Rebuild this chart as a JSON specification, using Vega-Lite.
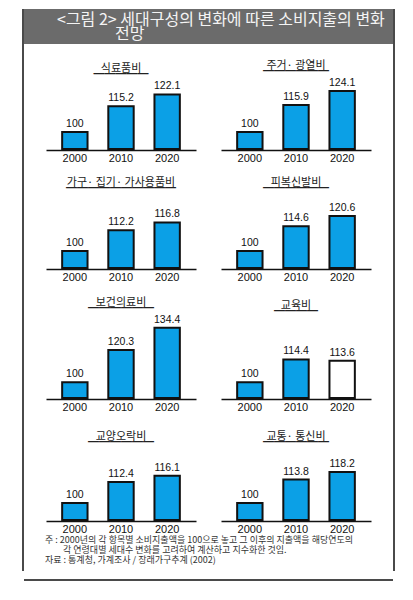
{
  "$schema": "https://vega.github.io/schema/vega-lite/v6.json",
  "padding": {"left": 22, "top": 9, "right": 0, "bottom": 0},
  "background": "white",
  "datasets": {
    "spend": [
      {"category": "식료품비", "year": "2000", "value": 100},
      {"category": "식료품비", "year": "2010", "value": 115.2},
      {"category": "식료품비", "year": "2020", "value": 122.1},
      {"category": "주거· 광열비", "year": "2000", "value": 100},
      {"category": "주거· 광열비", "year": "2010", "value": 115.9},
      {"category": "주거· 광열비", "year": "2020", "value": 124.1},
      {"category": "가구· 집기· 가사용품비", "year": "2000", "value": 100},
      {"category": "가구· 집기· 가사용품비", "year": "2010", "value": 112.2},
      {"category": "가구· 집기· 가사용품비", "year": "2020", "value": 116.8},
      {"category": "피복신발비", "year": "2000", "value": 100},
      {"category": "피복신발비", "year": "2010", "value": 114.6},
      {"category": "피복신발비", "year": "2020", "value": 120.6},
      {"category": "보건의료비", "year": "2000", "value": 100},
      {"category": "보건의료비", "year": "2010", "value": 120.3},
      {"category": "보건의료비", "year": "2020", "value": 134.4},
      {"category": "교육비", "year": "2000", "value": 100},
      {"category": "교육비", "year": "2010", "value": 114.4},
      {"category": "교육비", "year": "2020", "value": 113.6},
      {"category": "교양오락비", "year": "2000", "value": 100},
      {"category": "교양오락비", "year": "2010", "value": 112.4},
      {"category": "교양오락비", "year": "2020", "value": 116.1},
      {"category": "교통· 통신비", "year": "2000", "value": 100},
      {"category": "교통· 통신비", "year": "2010", "value": 113.8},
      {"category": "교통· 통신비", "year": "2020", "value": 118.2}
    ]
  },
  "spacing": 0,
  "hconcat": [
    {
      "data": {"values": [{}]},
      "width": 2,
      "height": 562,
      "mark": {"type": "rect", "color": "#4a4a4a"},
      "encoding": {}
    },
    {
      "spacing": 0,
      "center": true,
      "vconcat": [
        {
          "spacing": 19,
          "center": true,
          "vconcat": [
            {
              "spacing": 16,
              "center": true,
              "vconcat": [
                {
                  "data": {"values": [{}]},
                  "width": 369,
                  "height": 35,
                  "layer": [
                    {"mark": {"type": "rect", "color": "#6b6b6b"}, "encoding": {}},
                    {
                      "mark": {"type": "text", "text": "<그림 2> 세대구성의 변화에 따른 소비지출의 변화", "align": "left", "baseline": "middle", "dx": -151.5, "dy": -7, "fontSize": 16, "color": "#f4f4f4"},
                      "encoding": {}
                    },
                    {
                      "mark": {"type": "text", "text": "전망", "align": "left", "baseline": "middle", "dx": -93.5, "dy": 7, "fontSize": 16, "color": "#f4f4f4"},
                      "encoding": {}
                    }
                  ]
                },
                {
                  "spacing": 14,
                  "center": true,
                  "vconcat": [
                    {
                      "data": {"name": "spend"},
                      "transform": [{"filter": {"field": "category", "oneOf": ["식료품비", "주거· 광열비"]}}],
                      "facet": {"field": "category", "type": "nominal", "title": null, "sort": ["식료품비", "주거· 광열비"]},
                      "columns": 2,
                      "spacing": 25,
                      "spec": {
                        "width": 150,
                        "height": 67,
                        "encoding": {
                          "x": {"field": "year", "type": "ordinal", "title": null, "scale": {"paddingInner": 0.45, "paddingOuter": 0.35}},
                          "y": {"field": "value", "type": "quantitative", "axis": null, "scale": {"domain": [90, 129.4], "nice": false, "zero": false, "clamp": true}}
                        },
                        "layer": [
                          {
                            "mark": {"type": "bar", "stroke": "#111", "strokeWidth": 2},
                            "encoding": {"fill": {"condition": {"test": "datum.category === '교육비' && datum.year === '2020'", "value": "white"}, "value": "#0ba0e6"}}
                          },
                          {
                            "mark": {"type": "text", "baseline": "bottom", "dy": -3, "font": "Liberation Sans", "fontSize": 10.5, "color": "#111"},
                            "encoding": {"text": {"field": "value", "type": "nominal"}}
                          }
                        ]
                      }
                    },
                    {
                      "data": {"name": "spend"},
                      "transform": [{"filter": {"field": "category", "oneOf": ["가구· 집기· 가사용품비", "피복신발비"]}}],
                      "facet": {"field": "category", "type": "nominal", "title": null, "sort": ["가구· 집기· 가사용품비", "피복신발비"]},
                      "columns": 2,
                      "spacing": 25,
                      "spec": {
                        "width": 150,
                        "height": 73,
                        "encoding": {
                          "x": {"field": "year", "type": "ordinal", "title": null, "scale": {"paddingInner": 0.45, "paddingOuter": 0.35}},
                          "y": {"field": "value", "type": "quantitative", "axis": null, "scale": {"domain": [90, 132.9], "nice": false, "zero": false, "clamp": true}}
                        },
                        "layer": [
                          {
                            "mark": {"type": "bar", "stroke": "#111", "strokeWidth": 2},
                            "encoding": {"fill": {"condition": {"test": "datum.category === '교육비' && datum.year === '2020'", "value": "white"}, "value": "#0ba0e6"}}
                          },
                          {
                            "mark": {"type": "text", "baseline": "bottom", "dy": -3, "font": "Liberation Sans", "fontSize": 10.5, "color": "#111"},
                            "encoding": {"text": {"field": "value", "type": "nominal"}}
                          }
                        ]
                      }
                    },
                    {
                      "data": {"name": "spend"},
                      "transform": [{"filter": {"field": "category", "oneOf": ["보건의료비", "교육비"]}}],
                      "facet": {"field": "category", "type": "nominal", "title": null, "sort": ["보건의료비", "교육비"]},
                      "columns": 2,
                      "spacing": 25,
                      "spec": {
                        "width": 150,
                        "height": 80,
                        "encoding": {
                          "x": {"field": "year", "type": "ordinal", "title": null, "scale": {"paddingInner": 0.45, "paddingOuter": 0.35}},
                          "y": {"field": "value", "type": "quantitative", "axis": null, "scale": {"domain": [90, 140.6], "nice": false, "zero": false, "clamp": true}}
                        },
                        "layer": [
                          {
                            "mark": {"type": "bar", "stroke": "#111", "strokeWidth": 2},
                            "encoding": {"fill": {"condition": {"test": "datum.category === '교육비' && datum.year === '2020'", "value": "white"}, "value": "#0ba0e6"}}
                          },
                          {
                            "mark": {"type": "text", "baseline": "bottom", "dy": -3, "font": "Liberation Sans", "fontSize": 10.5, "color": "#111"},
                            "encoding": {"text": {"field": "value", "type": "nominal"}}
                          }
                        ]
                      }
                    }
                  ]
                }
              ]
            },
            {
              "data": {"name": "spend"},
              "transform": [{"filter": {"field": "category", "oneOf": ["교양오락비", "교통· 통신비"]}}],
              "facet": {"field": "category", "type": "nominal", "title": null, "sort": ["교양오락비", "교통· 통신비"]},
              "columns": 2,
              "spacing": 25,
              "spec": {
                "width": 150,
                "height": 71,
                "encoding": {
                  "x": {"field": "year", "type": "ordinal", "title": null, "scale": {"paddingInner": 0.45, "paddingOuter": 0.35}},
                  "y": {"field": "value", "type": "quantitative", "axis": null, "scale": {"domain": [90, 131.8], "nice": false, "zero": false, "clamp": true}}
                },
                "layer": [
                  {
                    "mark": {"type": "bar", "stroke": "#111", "strokeWidth": 2},
                    "encoding": {"fill": {"condition": {"test": "datum.category === '교육비' && datum.year === '2020'", "value": "white"}, "value": "#0ba0e6"}}
                  },
                  {
                    "mark": {"type": "text", "baseline": "bottom", "dy": -3, "font": "Liberation Sans", "fontSize": 10.5, "color": "#111"},
                    "encoding": {"text": {"field": "value", "type": "nominal"}}
                  }
                ]
              }
            }
          ]
        },
        {
          "data": {"values": [{}]},
          "width": 369,
          "height": 45,
          "layer": [
            {
              "mark": {"type": "text", "text": "주 : 2000년의 각 항목별 소비지출액을 100으로 놓고 그 이후의 지출액을 해당연도의", "align": "left", "baseline": "middle", "dx": -163.5, "dy": -16.5, "fontSize": 9, "color": "#333"},
              "encoding": {}
            },
            {
              "mark": {"type": "text", "text": "각 연령대별 세대수 변화를 고려하여 계산하고 지수화한 것임.", "align": "left", "baseline": "middle", "dx": -145.5, "dy": -6.8, "fontSize": 9, "color": "#333"},
              "encoding": {}
            },
            {
              "mark": {"type": "text", "text": "자료 : 통계청, 가계조사 / 장래가구추계 (2002)", "align": "left", "baseline": "middle", "dx": -163.5, "dy": 3.2, "fontSize": 9, "color": "#333"},
              "encoding": {}
            }
          ]
        },
        {
          "data": {"values": [{}]},
          "width": 369,
          "height": 2,
          "mark": {"type": "rect", "color": "#4a4a4a"},
          "encoding": {}
        }
      ]
    },
    {
      "data": {"values": [{}]},
      "width": 2,
      "height": 562,
      "mark": {"type": "rect", "color": "#4a4a4a"},
      "encoding": {}
    }
  ],
  "config": {
    "view": {"stroke": null},
    "font": "Noto Sans CJK KR",
    "header": {
      "labelFont": "Noto Sans CJK KR",
      "labelFontSize": 11,
      "labelColor": "#222",
      "labelLineHeight": 6,
      "labelPadding": 1,
      "labelExpr": "[datum.label, pad('', length(replace(datum.label, regexp('[· ]', 'g'), '')) + 1, '━')]"
    },
    "axisX": {
      "domainColor": "#111",
      "domainWidth": 1.6,
      "ticks": false,
      "labelAngle": 0,
      "labelFont": "Liberation Sans",
      "labelFontSize": 11,
      "labelColor": "#111",
      "labelPadding": 2,
      "grid": false
    }
  }
}
